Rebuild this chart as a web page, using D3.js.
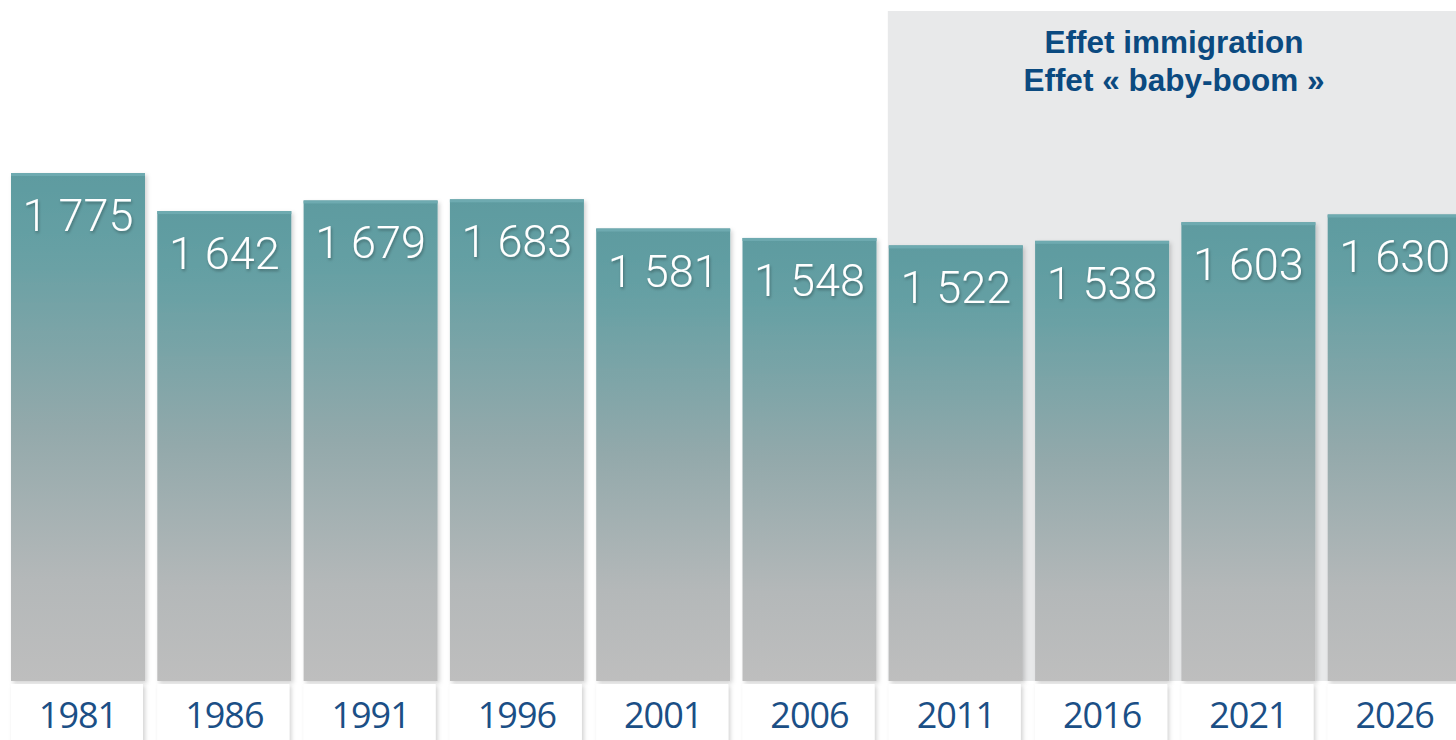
<!DOCTYPE html>
<html><head><meta charset="utf-8">
<script src="https://cdn.jsdelivr.net/npm/d3@7"></script>
<style>html,body{margin:0;padding:0;background:#fff;overflow:hidden}</style>
</head><body>
<svg id="c" width="1456" height="740"></svg>
<script>
const years = ["1981","1986","1991","1996","2001","2006","2011","2016","2021","2026"];
const values = [1775,1642,1679,1683,1581,1548,1522,1538,1603,1630];
const valueLabels = ["1 775","1 642","1 679","1 683","1 581","1 548","1 522","1 538","1 603","1 630"];
const highlightYears = ["2011","2016","2021","2026"];
const highlightLines = ["Effet immigration","Effet « baby-boom »"];

const svg = d3.select("#c");
const W = 1456, H = 740;
const step = 146.3, bw = 134;
const x = d3.scaleBand().domain(years).range([11, 11 + step*9 + bw]).paddingInner((step-bw)/step).paddingOuter(0);
const y = d3.scaleLinear().domain([0, 1775]).range([681, 173]);

const defs = svg.append("defs");
const g = defs.append("linearGradient").attr("id","bg").attr("x1",0).attr("y1",0).attr("x2",0).attr("y2",1);
[[0,"#5d9ba0"],[0.15,"#66a0a4"],[0.5,"#93a9ab"],[0.8,"#b4b8b9"],[1,"#bebebe"]].forEach(([o,c])=>g.append("stop").attr("offset",o).attr("stop-color",c));
const sh = defs.append("filter").attr("id","sh").attr("x","-10%").attr("y","-10%").attr("width","130%").attr("height","130%");
sh.append("feDropShadow").attr("dx",2).attr("dy",2).attr("stdDeviation",2).attr("flood-color","#000").attr("flood-opacity",0.18);
const ts = defs.append("filter").attr("id","ts").attr("x","-10%").attr("y","-20%").attr("width","130%").attr("height","150%");
ts.append("feDropShadow").attr("dx",1).attr("dy",2).attr("stdDeviation",1.5).attr("flood-color","#000").attr("flood-opacity",0.3);

// highlight panel
const hx0 = x(highlightYears[0]) - 1;
svg.append("rect").attr("x",hx0).attr("y",11).attr("width",W-hx0).attr("height",681-11).attr("fill","#e8e9ea");
const hcx = (hx0 + W)/2 + 2;
svg.append("g").selectAll("text").data(highlightLines).join("text")
  .attr("x",hcx).attr("y",(d,i)=>53+i*38).attr("text-anchor","middle")
  .attr("font-family","Liberation Sans, Arial, sans-serif").attr("font-weight","bold").attr("font-size",31.5)
  .attr("fill","#0b4a80").text(d=>d);

// bars
const bars = svg.append("g");
bars.selectAll("rect.bar").data(values).join("rect").attr("class","bar")
  .attr("x",(d,i)=>x(years[i])).attr("y",d=>y(d)).attr("width",x.bandwidth()).attr("height",d=>y(0)-y(d))
  .attr("fill","url(#bg)").attr("filter","url(#sh)");
bars.selectAll("rect.top").data(values).join("rect").attr("class","top")
  .attr("x",(d,i)=>x(years[i])).attr("y",d=>y(d)).attr("width",x.bandwidth()).attr("height",3)
  .attr("fill","#6eaab0");
bars.selectAll("text").data(values).join("text")
  .attr("x",(d,i)=>x(years[i])+x.bandwidth()/2).attr("y",d=>y(d)+58)
  .attr("text-anchor","middle").attr("font-family","Roboto, sans-serif").attr("font-weight",300)
  .attr("font-size",45).attr("fill","#fff").attr("filter","url(#ts)")
  .text((d,i)=>valueLabels[i]);

// x axis label boxes
const ax = svg.append("g");
ax.selectAll("rect").data(years).join("rect")
  .attr("x",d=>x(d)).attr("y",684).attr("width",x.bandwidth()-2).attr("height",70)
  .attr("fill","#fff").attr("filter","url(#sh)");
ax.selectAll("text").data(years).join("text")
  .attr("x",d=>x(d)+x.bandwidth()/2).attr("y",728).attr("text-anchor","middle")
  .attr("font-family","Open Sans, sans-serif").attr("font-size",36).attr("letter-spacing",-1)
  .attr("fill","#1b4f86").text(d=>d);
</script>
</body></html>
